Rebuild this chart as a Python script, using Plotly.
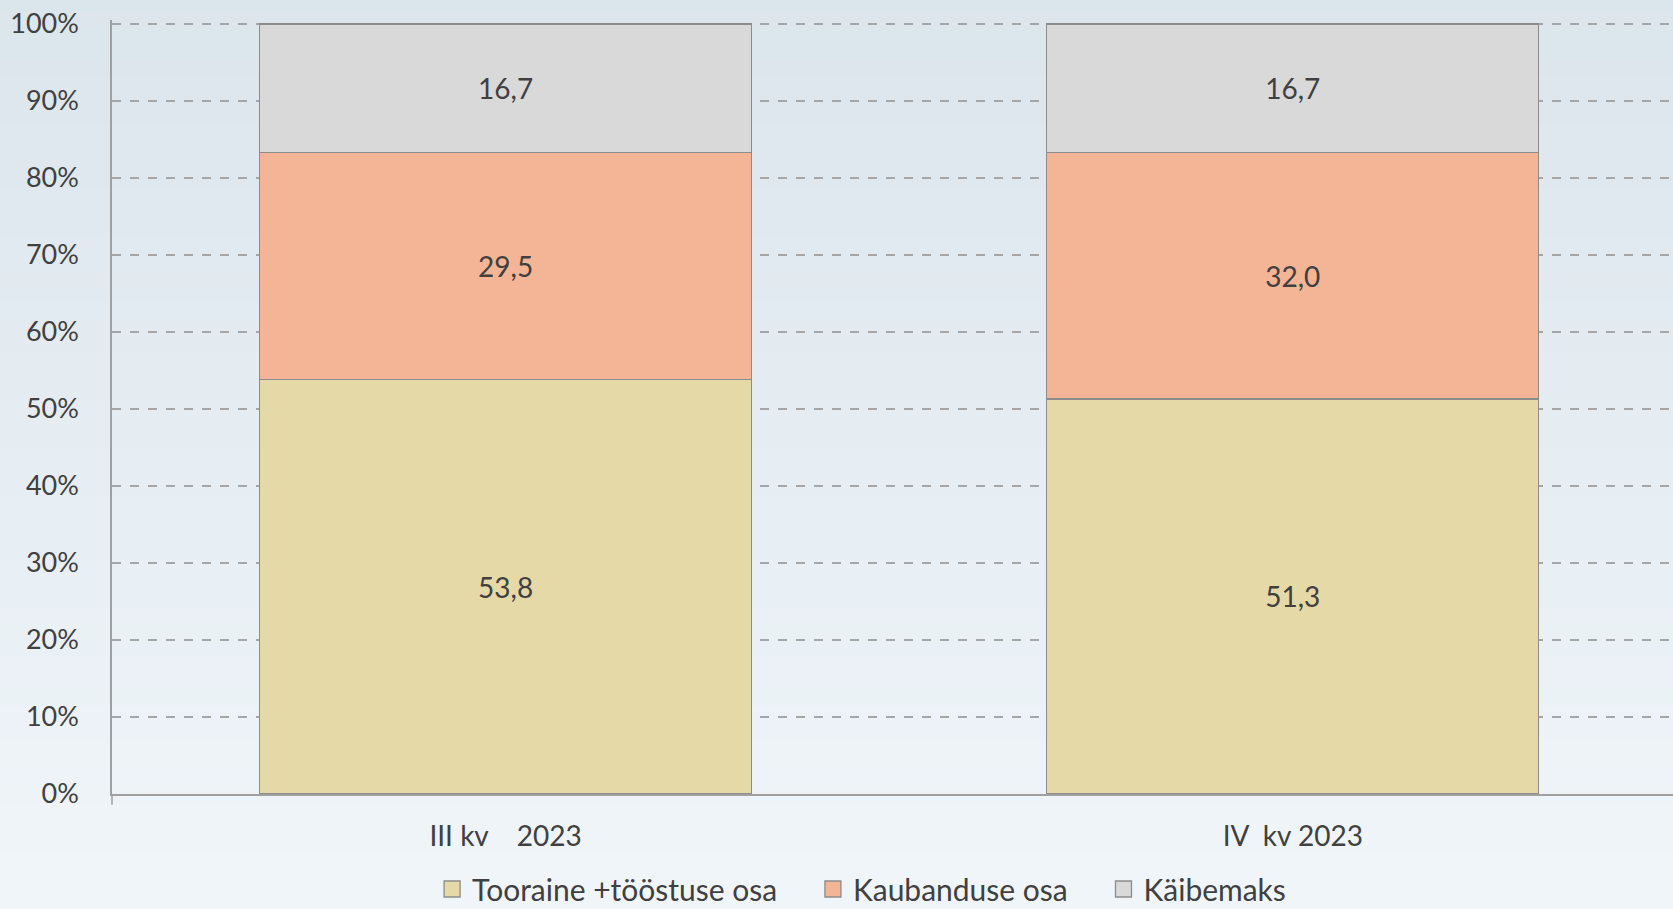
import plotly.graph_objects as go

categories = ["III kv\u00a0\u00a0\u00a0\u00a02023", "IV\u00a0\u00a0kv 2023"]
series_names = ["Tooraine +tööstuse osa", "Kaubanduse osa", "Käibemaks"]
tooraine = [53.8, 51.3]
kaubandus = [29.5, 32.0]
kaibemaks = [16.7, 16.7]
colors = ["#e6d9a8", "#f3b596", "#d9d9d9"]
ytick_vals = [0, 10, 20, 30, 40, 50, 60, 70, 80, 90, 100]
ytick_text = [f"{v}%" for v in ytick_vals]

FONT = "Lato"
TXT = "#404040"
EDGE = "#8c8c8c"

fig = go.Figure()
for name, vals, col in zip(series_names, [tooraine, kaubandus, kaibemaks], colors):
    fig.add_trace(go.Bar(
        x=categories, y=vals, name=name, showlegend=False,
        marker=dict(color=col, line=dict(color=EDGE, width=1.3)),
        text=[f"{v:.1f}".replace(".", ",") for v in vals],
        textposition="inside", insidetextanchor="middle",
        textfont=dict(family=FONT, size=28, color=TXT),
        constraintext="none",
    ))
# legend entries (bigger square swatches)
for i, (name, col) in enumerate(zip(series_names, colors)):
    pad = "\u00a0" * 4 if i < len(series_names) - 1 else ""
    fig.add_trace(go.Scatter(
        x=[None], y=[None], mode="markers", name=name + pad, showlegend=True,
        marker=dict(symbol="square", size=16, color=col, line=dict(color=EDGE, width=1.3)),
    ))

# gradient background bands
n = 60
top = (219, 229, 236)
bot = (241, 246, 250)
shapes = []
for i in range(n):
    t = i / (n - 1)
    c = tuple(round(top[k] + (bot[k] - top[k]) * t) for k in range(3))
    shapes.append(dict(type="rect", xref="paper", yref="paper",
                       x0=-0.2, x1=1.2, y0=1.05 - (i + 1) * (1.25 / n), y1=1.05 - i * (1.25 / n) + 0.002,
                       fillcolor=f"rgb{c}", line=dict(width=0), layer="below"))
# small tick below the axis origin
shapes.append(dict(type="line", xref="paper", yref="paper", x0=0, x1=0, y0=0, y1=-0.014,
                   line=dict(color="#a0a0a0", width=1.5)))

fig.update_layout(
    width=1673, height=909,
    barmode="stack", bargap=0.375,
    paper_bgcolor="#eaf1f6", plot_bgcolor="rgba(0,0,0,0)",
    margin=dict(l=112, r=0, t=20, b=115),
    shapes=shapes,
    font=dict(family=FONT, color=TXT),
    showlegend=True,
    legend=dict(orientation="h", xref="container", yref="container",
                x=0.515, xanchor="center", y=0.022, yanchor="middle",
                traceorder="normal", font=dict(family=FONT, size=30, color=TXT),
                bgcolor="rgba(0,0,0,0)", itemwidth=30, tracegroupgap=0),
)
fig.update_xaxes(range=[-0.5, 1.483], showline=True, linecolor="#a0a0a0", linewidth=2,
                 tickfont=dict(family=FONT, size=28, color=TXT), ticks="", showgrid=False,
                 ticklabelstandoff=16)
fig.update_yaxes(range=[0, 100.5], tickvals=ytick_vals, ticktext=ytick_text,
                 showline=True, linecolor="#a0a0a0", linewidth=1.5,
                 showgrid=True, gridcolor="#a6a6a6", griddash="dash", gridwidth=1.5,
                 tickfont=dict(family=FONT, size=27, color=TXT), ticks="", zeroline=False,
                 ticklabelstandoff=26)

fig.write_html("out.html", config={"displayModeBar": False},
               post_script="document.body.style.margin='0';document.body.style.overflow='hidden';")
